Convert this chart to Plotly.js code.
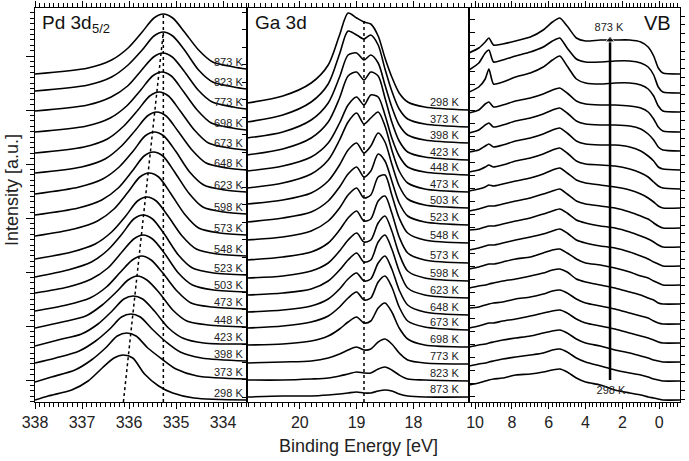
<!DOCTYPE html>
<html><head><meta charset="utf-8">
<script src="https://cdn.plot.ly/plotly-3.0.1.min.js"></script>
<style>html,body{margin:0;padding:0;background:#fff}#chart{width:689px;height:461px}</style>
</head><body><div id="chart"></div>
<script>
// ---------- Pd 3d5/2 panel (top curve first) ----------
const pdLabels = ['873 K','823 K','773 K','698 K','673 K','648 K','623 K','598 K','573 K','548 K','523 K','503 K','473 K','448 K','423 K','398 K','373 K','298 K'];
const pdOffset = [333,313,293,272,252,232,210,188,167,146,127,110,93,75,58,41,23,2];
const pdEnergy = [
 [338,336.87,336.37,336.02,335.72,335.47,335.27,335.07,334.82,334.52,334.22,333.77,333.5],
 [338,336.87,336.37,336.02,335.72,335.47,335.27,335.07,334.82,334.52,334.22,333.77,333.5],
 [338,336.88,336.38,336.03,335.73,335.48,335.28,335.08,334.83,334.53,334.23,333.78,333.5],
 [338,336.9,336.4,336.05,335.75,335.5,335.3,335.1,334.85,334.55,334.25,333.8,333.5],
 [338,336.96,336.46,336.11,335.81,335.56,335.36,335.16,334.91,334.61,334.31,333.86,333.5],
 [338,337.01,336.51,336.16,335.86,335.61,335.41,335.21,334.96,334.66,334.36,333.91,333.5],
 [338,337.06,336.56,336.21,335.91,335.66,335.46,335.26,335.01,334.71,334.41,333.96,333.5],
 [338,337.08,336.58,336.23,335.93,335.68,335.48,335.28,335.03,334.73,334.43,333.98,333.5],
 [338,337.17,336.67,336.32,336.02,335.77,335.57,335.37,335.12,334.82,334.52,334.07,333.5],
 [338,337.22,336.72,336.37,336.07,335.82,335.62,335.42,335.17,334.87,334.57,334.12,333.5],
 [338,337.3,336.8,336.45,336.15,335.9,335.7,335.5,335.25,334.95,334.65,334.2,333.5],
 [338,337.3,336.8,336.45,336.15,335.9,335.7,335.5,335.25,334.95,334.65,334.2,333.5],
 [338,337.33,336.83,336.48,336.18,335.93,335.73,335.53,335.28,334.98,334.68,334.23,333.5],
 [338,337.42,336.92,336.57,336.27,336.02,335.82,335.62,335.37,335.07,334.77,334.32,333.5],
 [338,337.51,337.01,336.66,336.36,336.11,335.91,335.71,335.46,335.16,334.86,334.41,333.5],
 [338,337.56,337.06,336.71,336.41,336.16,335.96,335.76,335.51,335.21,334.91,334.46,333.5],
 [338,337.65,337.15,336.8,336.5,336.25,336.05,335.85,335.6,335.3,335.0,334.55,333.5],
 [338,337.72,337.22,336.87,336.57,336.32,336.12,335.92,335.67,335.37,335.07,334.62,333.5]
];
const pdIntensity = [
 [-5,1,9,21,37,51,55,51,37,19,7,2,0],
 [-2,4,12,24,39,53,57,53,39,19,7,2,0],
 [-2,4,12,23,39,52,56,52,38,19,7,2,0],
 [-2,4,12,24,40,54,58,54,39,20,7,2,0],
 [-3,3,11,24,40,54,58,54,39,20,7,2,0],
 [-3,3,11,24,40,54,58,54,39,20,7,2,0],
 [-2,5,13,25,41,56,60,56,41,20,7,2,0],
 [-1,6,14,26,43,58,62,58,42,21,7,2,0],
 [-1,6,14,26,43,58,62,58,42,21,7,2,0],
 [-3,4,12,24,40,55,59,55,40,20,7,2,0],
 [-2,5,13,25,41,56,60,56,41,20,7,2,0],
 [-1,5,13,24,40,53,57,53,39,19,7,2,0],
 [-2,4,11,22,37,49,53,49,36,18,6,2,0],
 [-1,5,11,22,35,47,51,47,35,17,6,2,0],
 [-2,4,10,20,33,45,48,45,33,16,6,1,0],
 [-2,3,10,20,32,44,47,44,32,19,9,3,0],
 [-3,2,9,19,31,43,46,43,31,20,10,3,0],
 [0,4,10,19,32,42,45,42,26,14,7,2,0]
];
const pdShiftE = [336.12, 335.27];
const pdShiftI = [0, 370];
const pdRefE = [335.27, 335.27];
const pdRefI = [0, 388];

// ---------- Ga 3d panel (top curve first) ----------
const gaLabels = ['298 K','373 K','398 K','423 K','448 K','473 K','503 K','523 K','548 K','573 K','598 K','623 K','648 K','673 K','698 K','773 K','823 K','873 K'];
const gaOffset = [292,275,259,242,227,210,194,177,159,139,121,104,87,72,55,38,21,5];
const gaEnergy = [20.93,20.3,19.8,19.5,19.3,19.15,19.0,18.87,18.75,18.62,18.5,18.38,18.25,18.1,17.8,17.02];
const gaIntensity = [
 [7,14,27,45,75,97,92,88,86,74,52,33,17,8,3,0],
 [5,12,25,43,73,96,92,88,92,82,58,36,18,8,3,0],
 [5,11,23,40,66,88,90,83,88,80,58,36,18,8,3,0],
 [5,11,22,38,62,84,88,80,88,84,62,38,19,8,3,0],
 [4,9,18,32,52,70,78,70,80,78,60,37,19,8,3,0],
 [4,9,18,32,52,70,79,68,74,80,66,42,21,9,3,0],
 [4,8,15,27,43,58,65,55,62,75,66,44,22,9,3,0],
 [3,7,13,24,38,51,58,48,54,71,64,44,22,9,3,0],
 [3,6,12,22,35,48,55,45,48,66,68,48,25,10,3,0],
 [3,6,11,20,33,45,52,42,44,62,67,50,26,10,3,0],
 [3,5,10,18,30,41,48,39,41,58,65,50,27,10,3,0],
 [3,5,9,17,28,38,45,36,38,56,63,49,27,10,3,0],
 [3,5,9,16,26,36,42,34,36,52,59,46,25,10,3,0],
 [2,4,8,14,23,32,38,30,32,48,54,43,23,9,3,0],
 [2,3,6,11,18,25,30,24,26,39,44,35,19,8,2,0],
 [1,2,3,6,10,14,17,14,15,22,25,20,11,4,1,0],
 [1,1,2,3,5,7,9,8,8,12,14,11,6,2,1,0],
 [0,1,1,2,3,4,5,4,4,6,7,6,3,1,0,0]
];
const gaRefE = [18.87, 18.87];
const gaRefI = [0, 382];

// ---------- Valence band panel (top curve first) ----------
const vbLabels = ['873 K','298 K'];
const vbOffset = [328,309,290,270,251,232,213,194,174,155,136,117,98,78,59,40,21,2];
const vbEnergy = [10.33,9.8,9.45,9.25,9.0,8.5,7.8,7.0,6.3,5.8,5.4,5.0,4.5,4.0,3.2,2.4,1.6,1.0,0.6,0.3,0.05,-0.2,-1.13];
const vbIntensity = [
 [21,26,32,36,29,30,33,37,44,52,56,48,36,33,34,34,34,32,27,18,6,1,0],
 [23,30,40,43,31,33,37,41,46,52,55,45,34,31,31,32,32,30,26,18,6,1,0],
 [20,25,33,43,28,30,35,39,45,52,56,46,33,29,28,29,29,27,23,16,6,1,0],
 [19,22,28,30,25,27,31,34,38,42,44,39,31,28,27,27,26,24,20,13,5,1,0],
 [18,21,26,28,24,26,30,33,37,41,43,38,30,27,26,26,25,22,17,11,4,1,0],
 [18,20,24,26,23,25,29,32,36,40,42,37,29,26,25,25,23,19,14,9,3,1,0],
 [17,19,22,24,22,24,28,31,35,39,41,36,28,25,24,23,20,16,12,7,3,1,0],
 [17,19,21,23,22,24,27,30,34,38,40,35,28,25,23,21,18,14,10,6,2,0,0],
 [17,19,21,22,22,24,27,30,34,37,39,34,27,24,22,20,16,12,9,5,2,0,0],
 [17,18,20,21,21,23,26,29,33,36,38,34,27,24,21,19,15,11,8,5,2,0,0],
 [16,18,20,21,21,23,26,29,32,35,37,33,26,23,20,18,14,10,7,4,2,0,0],
 [16,18,20,21,21,23,26,28,32,35,36,32,26,22,20,17,13,9,7,4,2,0,0],
 [16,18,19,20,21,23,25,28,31,34,35,32,25,22,19,16,12,9,6,4,1,0,0],
 [16,17,19,20,21,22,25,27,30,33,34,31,25,21,18,15,11,8,6,3,1,0,0],
 [15,17,19,20,20,22,24,27,30,32,33,30,24,20,17,14,10,7,5,3,1,0,0],
 [15,17,18,19,20,22,24,26,29,31,32,29,23,19,16,12,9,6,4,2,1,0,0],
 [15,17,18,19,20,22,24,26,28,31,32,29,23,19,15,11,8,6,4,2,1,0,0],
 [15,17,19,20,21,22,25,26,28,30,31,28,22,18,15,10,7,5,3,2,1,0,0]
];
const vbMarkE = [2.67, 2.67];
const vbMarkI = [22, 362];
const vbLabelE = [2.73, 2.62];
const vbLabelI = [374, 11];

// ---------- build ----------
const LINE = {color:'#000', width:1.6, shape:'spline', smoothing:0.8};
const traces = [];
pdIntensity.forEach((row,i)=>traces.push({x:pdEnergy[i], y:row.map(v=>v+pdOffset[i]), xaxis:'x', yaxis:'y', mode:'lines', line:LINE, hoverinfo:'skip', showlegend:false}));
gaIntensity.forEach((row,i)=>traces.push({x:gaEnergy, y:row.map(v=>v+gaOffset[i]), xaxis:'x2', yaxis:'y2', mode:'lines', line:LINE, hoverinfo:'skip', showlegend:false}));
vbIntensity.forEach((row,i)=>traces.push({x:vbEnergy, y:row.map(v=>v+vbOffset[i]), xaxis:'x3', yaxis:'y3', mode:'lines', line:{color:'#000', width:1.6, shape:'spline', smoothing:0.6}, hoverinfo:'skip', showlegend:false}));
const DOT = {color:'#000', width:1.5, dash:'dot'};
traces.push({x:pdShiftE, y:pdShiftI, xaxis:'x', yaxis:'y', mode:'lines', line:DOT, hoverinfo:'skip', showlegend:false});
traces.push({x:pdRefE, y:pdRefI, xaxis:'x', yaxis:'y', mode:'lines', line:DOT, hoverinfo:'skip', showlegend:false});
traces.push({x:gaRefE, y:gaRefI, xaxis:'x2', yaxis:'y2', mode:'lines', line:DOT, hoverinfo:'skip', showlegend:false});
// temperature arrow in the VB panel
traces.push({x:vbMarkE, y:vbMarkI, xaxis:'x3', yaxis:'y3', mode:'lines+markers', line:{color:'#000', width:2.5},
  marker:{symbol:'triangle-up', size:[0,8], color:'#000'}, cliponaxis:false, hoverinfo:'skip', showlegend:false});
traces.push({x:vbLabelE, y:vbLabelI, text:vbLabels, xaxis:'x3', yaxis:'y3', mode:'text', textposition:'middle center',
  textfont:{family:'Liberation Sans, Arial, sans-serif', size:11, color:'#222'}, hoverinfo:'skip', showlegend:false});
traces.push({x:[], y:[], xaxis:'x3', yaxis:'y4', mode:'lines', hoverinfo:'skip', showlegend:false});

const FONT = 'Liberation Sans, Arial, Helvetica, sans-serif';
const tickFont = {family:FONT, size:16, color:'#222'};
function xax(domain, range, tick0, dtick, minor){
  return {domain, range, tickmode:'linear', tick0, dtick, ticks:'outside', ticklen:6, tickwidth:1, tickcolor:'#000',
    minor:{tickmode:'linear', tick0, dtick:minor, ticks:'outside', ticklen:3.5, tickwidth:1, tickcolor:'#000', showgrid:false},
    showline:true, linecolor:'#000', linewidth:1.2, mirror:'ticks', showgrid:false, zeroline:false, tickfont:tickFont, fixedrange:true};
}
function yax(anchor, ticks, dtick, len, extra){
  return Object.assign({domain:[0,1], range:[0,394], anchor, ticks, tickmode:'linear', tick0:0, dtick, ticklen:len, tickwidth:1, tickcolor:'#000',
    showticklabels:false, showline:true, linecolor:'#000', linewidth:1.2, mirror:true, showgrid:false, zeroline:false, fixedrange:true}, extra||{});
}
const ann = [];
const lblFont = {family:FONT, size:11, color:'#222'};
pdLabels.forEach((t,i)=>ann.push({text:t, x:333.53, y:pdOffset[i]+7, xref:'x', yref:'y', xanchor:'right', yanchor:'middle', showarrow:false, font:lblFont}));
gaLabels.forEach((t,i)=>ann.push({text:t, x:17.16, y:gaOffset[i]+8, xref:'x2', yref:'y2', xanchor:'right', yanchor:'middle', showarrow:false, font:lblFont}));
const titleFont = {family:FONT, size:19, color:'#111'};
ann.push({text:'Pd 3d', xref:'paper', yref:'paper', x:0.0078, y:0.995, xanchor:'left', yanchor:'top', showarrow:false, font:titleFont});
ann.push({text:'5/2', xref:'paper', yref:'paper', x:0.0845, y:0.947, xanchor:'left', yanchor:'middle', showarrow:false, font:{family:FONT, size:13, color:'#111'}});
ann.push({text:'Ga 3d', xref:'paper', yref:'paper', x:0.338, y:0.995, xanchor:'left', yanchor:'top', showarrow:false, font:titleFont});
ann.push({text:'VB', xref:'paper', yref:'paper', x:0.989, y:0.995, xanchor:'right', yanchor:'top', showarrow:false, font:{family:FONT, size:20, color:'#111'}});
ann.push({text:'Binding Energy [eV]', xref:'paper', yref:'paper', x:0.502, y:-0.112, xanchor:'center', yanchor:'middle', showarrow:false, font:{family:FONT, size:18, color:'#222'}});
ann.push({text:'Intensity [a.u.]', xref:'paper', yref:'paper', x:-0.0357, y:0.538, xanchor:'center', yanchor:'middle', textangle:-90, showarrow:false, font:{family:FONT, size:18, color:'#222'}});

const layout = {
  width:689, height:461, margin:{l:35, r:9, t:8, b:59, pad:0},
  paper_bgcolor:'#fff', plot_bgcolor:'#fff', showlegend:false,
  xaxis: xax([0,0.3287], [338,333.49], 334, 1, 0.1),
  xaxis2: xax([0.3287,0.6729], [20.93,17.02], 18, 1, 0.1),
  xaxis3: xax([0.6729,1], [10.33,-1.13], 0, 2, 0.2),
  yaxis: yax('x', 'outside', 54, 8, {tick0:22, minor:{tickmode:'linear', tick0:22, dtick:5.4, ticks:'outside', ticklen:4, tickcolor:'#000', showgrid:false}}),
  yaxis2: yax('x2', 'outside', 17.5, 4, {tick0:5}),
  yaxis3: yax('x3', 'inside', 13, 6, {tick0:6}),
  yaxis4: yax('x3', 'outside', 8.7, 4, {overlaying:'y3', side:'right', tick0:3, mirror:false}),
  annotations: ann
};
Plotly.newPlot('chart', traces, layout, {staticPlot:true, displayModeBar:false});
</script></body></html>
